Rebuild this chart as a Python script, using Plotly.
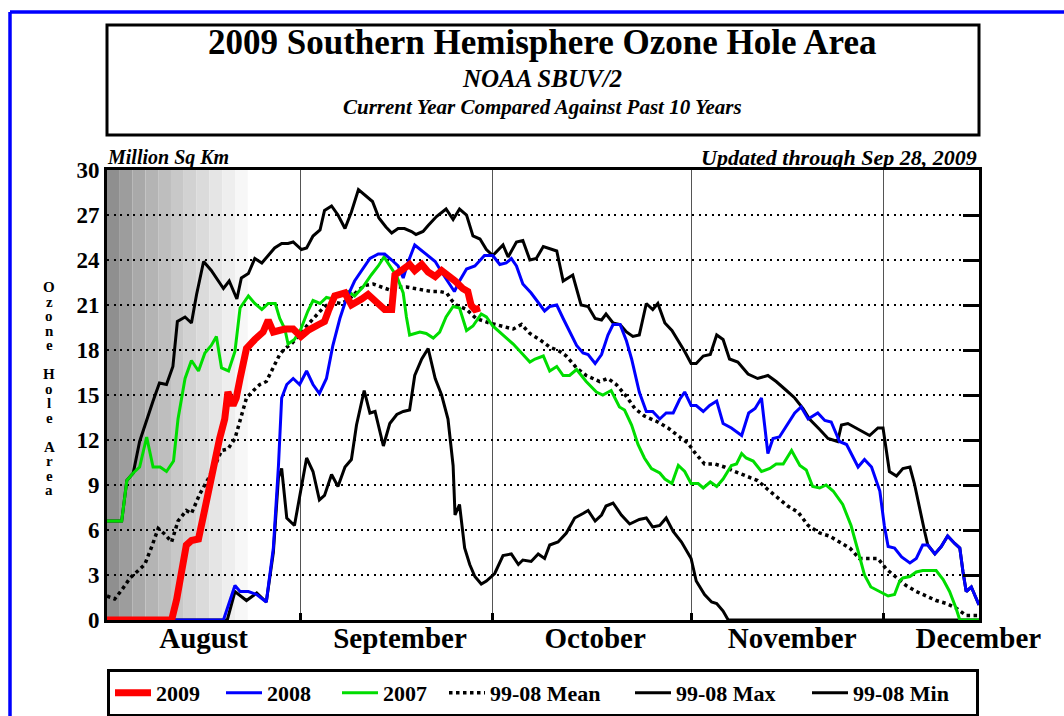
import plotly.graph_objects as go

# ---------------- data (x = day index, 0 = Aug 1 2009; y = million sq km) ----------------
s2009 = [(0.7, 0), (10.8, 0), (11.6, 1.4), (12.4, 3.4), (13.1, 5.0), (13.9, 5.3), (15.0, 5.4), (15.7, 6.8),
         (16.8, 9.0), (17.6, 11.0), (18.3, 12.1), (19.1, 13.4), (19.6, 15.2), (20.4, 14.3), (20.9, 14.8),
         (21.5, 16.1), (22.5, 18.1), (23.8, 18.7), (25.1, 19.2), (25.9, 20.0), (26.7, 19.2), (28.5, 19.4),
         (29.8, 19.4), (31.0, 18.9), (32.1, 19.3), (33.8, 19.7), (34.7, 19.9), (35.3, 20.6), (36.3, 21.6),
         (37.9, 21.8), (38.9, 21.0), (40.5, 21.4), (41.5, 21.7), (42.8, 21.2), (44.1, 20.7), (45.2, 20.7),
         (45.7, 23.0), (46.7, 23.3), (48.0, 23.7), (48.8, 23.3), (49.9, 23.7), (50.9, 23.2), (52.0, 22.9),
         (53.0, 23.3), (54.0, 23.0), (55.1, 22.6), (56.3, 22.1), (57.1, 21.9), (57.6, 21.0), (58.2, 20.7),
         (59.0, 20.8)]

s2008 = [(0.7, 0), (18.9, 0), (20.7, 2.3), (21.5, 1.9), (22.8, 1.9), (24.1, 1.7), (25.6, 1.2), (26.7, 4.8),
         (27.5, 10.3), (28.0, 14.8), (28.8, 15.7), (29.8, 16.1), (30.8, 15.7), (31.9, 16.6), (32.9, 15.7),
         (33.9, 15.1), (35.0, 16.1), (36.0, 18.3), (37.1, 20.1), (38.1, 21.4), (39.4, 22.6), (40.7, 23.4),
         (41.8, 24.1), (43.1, 24.4), (44.1, 24.4), (45.2, 24.0), (46.2, 23.6), (47.0, 22.8), (47.8, 23.9),
         (48.8, 25.0), (49.9, 24.6), (50.9, 24.3), (52.0, 23.9), (53.0, 23.2), (53.8, 22.7), (55.0, 21.9),
         (55.8, 22.6), (56.9, 23.4), (58.2, 23.6), (59.7, 24.3), (61.0, 24.3), (62.1, 23.7), (63.1, 23.8),
         (63.9, 24.1), (64.7, 23.6), (65.7, 22.4), (67.0, 21.8), (68.1, 21.2), (69.1, 20.6), (69.9, 20.9),
         (71.0, 21.0), (72.0, 20.1), (73.0, 19.2), (74.1, 18.3), (75.1, 17.8), (75.9, 17.7), (77.0, 17.1),
         (78.0, 17.7), (79.0, 19.0), (79.8, 19.7), (80.9, 19.7), (81.9, 18.6), (82.7, 17.4), (83.9, 15.2),
         (85.0, 13.9), (86.0, 13.9), (87.1, 13.4), (88.1, 13.8), (89.2, 13.8), (90.2, 14.7), (91.0, 15.2),
         (92.0, 14.3), (92.8, 14.3), (93.9, 13.9), (94.9, 14.3), (96.0, 14.6), (97.0, 13.1), (98.3, 12.8),
         (99.9, 12.3), (101.0, 13.8), (102.0, 14.1), (103.0, 14.8), (104.0, 11.1), (104.8, 12.1),
         (105.8, 12.2), (107.1, 13.1), (108.2, 13.8), (109.2, 14.2), (110.3, 13.4), (111.8, 13.8),
         (112.9, 13.3), (113.9, 13.2), (115.2, 11.9), (116.3, 11.7), (118.1, 10.2), (119.1, 10.7),
         (120.2, 10.2), (121.5, 8.6), (122.2, 6.3), (122.8, 4.9), (123.8, 4.8), (124.9, 4.2), (126.2, 3.8),
         (127.2, 4.1), (128.2, 5.0), (129.0, 5.0), (130.1, 4.4), (131.1, 4.9), (132.1, 5.6), (133.2, 5.1),
         (134.0, 4.8), (134.5, 3.2), (135.0, 1.9), (135.8, 2.2), (136.3, 1.7), (137.0, 1.0)]

s2007 = [(0.7, 6.6), (3.0, 6.6), (3.8, 9.3), (4.8, 9.8), (5.8, 10.2), (6.9, 12.2), (7.9, 10.2), (9.0, 10.2),
         (10.0, 9.9), (11.1, 10.6), (11.8, 13.4), (12.9, 16.1), (13.9, 17.3), (15.0, 16.6), (16.0, 17.8),
         (17.0, 18.3), (17.8, 18.9), (18.6, 16.8), (19.7, 16.6), (20.7, 17.9), (21.5, 20.8), (22.8, 21.6),
         (23.8, 21.1), (24.9, 20.7), (25.9, 21.1), (27.0, 21.1), (27.7, 20.1), (28.5, 19.4), (29.0, 18.4),
         (30.0, 18.7), (31.0, 19.4), (32.1, 20.6), (32.9, 21.3), (34.0, 21.1), (35.0, 21.5), (36.0, 21.4),
         (37.1, 21.7), (38.4, 21.9), (39.4, 21.6), (40.7, 22.2), (42.0, 23.0), (43.1, 23.6), (44.0, 24.2),
         (44.9, 23.6), (46.0, 22.9), (47.0, 21.8), (47.5, 20.2), (48.0, 19.0), (49.6, 19.2), (50.6, 19.1),
         (51.7, 18.8), (52.7, 19.2), (53.7, 20.2), (54.8, 20.9), (55.8, 20.8), (56.9, 19.3), (57.9, 19.6),
         (59.2, 20.4), (60.0, 20.2), (61.0, 19.6), (62.6, 19.0), (64.2, 18.4), (65.5, 17.8), (66.8, 17.2),
         (67.6, 17.4), (68.9, 17.6), (69.9, 16.6), (71.0, 16.9), (72.0, 16.3), (73.0, 16.3), (74.1, 16.7),
         (75.6, 15.9), (77.2, 15.2), (78.2, 15.0), (79.5, 15.3), (80.8, 14.2), (81.6, 14.0), (82.7, 13.0),
         (83.7, 11.7), (84.7, 10.8), (85.8, 10.1), (87.1, 9.8), (87.9, 9.4), (89.0, 9.1), (90.0, 10.3),
         (91.0, 9.9), (92.0, 9.1), (93.1, 9.1), (93.9, 8.8), (95.0, 9.2), (96.0, 8.9), (97.0, 9.4),
         (98.3, 10.3), (99.1, 10.4), (99.9, 11.1), (100.6, 10.8), (101.7, 10.6), (103.0, 9.9), (104.3, 10.1),
         (105.3, 10.4), (106.4, 10.4), (107.7, 11.3), (109.0, 10.3), (110.0, 10.0), (111.0, 8.9), (112.1, 8.8),
         (113.1, 9.0), (114.2, 8.6), (115.7, 7.7), (117.0, 6.3), (118.1, 4.6), (119.1, 3.0), (120.1, 2.2),
         (121.5, 1.9), (122.8, 1.6), (123.8, 1.7), (124.6, 2.6), (125.1, 2.8), (126.2, 2.9), (127.2, 3.2),
         (128.2, 3.3), (129.3, 3.3), (130.3, 3.3), (131.4, 2.7), (132.4, 1.9), (133.4, 0.8), (134.0, 0),
         (137.0, 0)]

s_mean = [(0.7, 1.6), (1.9, 1.4), (3.0, 2.0), (4.3, 2.8), (5.6, 3.3), (6.6, 3.7), (7.7, 4.9), (8.7, 6.1),
          (9.8, 5.7), (10.8, 5.2), (11.8, 6.6), (13.1, 7.3), (13.9, 7.1), (15.2, 8.4), (16.5, 9.4),
          (17.6, 10.3), (18.6, 11.3), (19.6, 11.4), (20.7, 12.1), (21.7, 13.7), (22.5, 14.8), (23.6, 15.3),
          (24.6, 15.7), (25.6, 15.9), (26.7, 16.8), (27.7, 17.7), (28.5, 18.1), (29.5, 18.4), (30.8, 19.0),
          (32.1, 19.7), (33.4, 20.3), (34.7, 20.9), (36.0, 21.2), (37.3, 21.1), (38.6, 21.4), (40.0, 22.0),
          (41.0, 22.3), (42.3, 22.4), (43.6, 22.2), (44.9, 22.0), (46.2, 22.2), (47.5, 22.2), (48.8, 22.1),
          (50.1, 22.0), (51.4, 21.9), (52.7, 21.9), (53.8, 21.8), (54.6, 21.3), (55.3, 21.0), (56.9, 20.7),
          (58.4, 20.1), (60.5, 19.8), (62.6, 19.6), (64.2, 19.4), (65.5, 19.7), (66.8, 19.1), (68.3, 18.7),
          (69.9, 18.2), (71.5, 17.9), (72.5, 17.6), (74.1, 16.8), (75.6, 16.3), (77.7, 15.9), (79.0, 16.1),
          (80.3, 15.7), (81.9, 14.9), (83.2, 14.1), (84.7, 13.6), (86.8, 13.2), (88.4, 12.8), (89.9, 12.3),
          (91.5, 11.8), (92.5, 11.2), (94.1, 10.4), (95.7, 10.4), (97.2, 10.2), (98.8, 9.9), (100.6, 9.6),
          (102.4, 9.3), (104.0, 8.7), (105.6, 8.1), (107.1, 7.6), (108.7, 7.2), (110.3, 6.3), (112.1, 5.8),
          (113.6, 5.6), (115.2, 5.2), (116.8, 4.8), (118.3, 4.1), (119.9, 4.1), (121.2, 4.1), (122.5, 3.4),
          (124.1, 2.8), (125.6, 2.3), (127.2, 1.9), (128.8, 1.6), (130.3, 1.3), (131.9, 1.1), (133.4, 0.8),
          (135.0, 0.3), (137.0, 0.3)]

s_max = [(0.7, 6.6), (3.0, 6.6), (3.8, 9.3), (4.8, 9.8), (5.8, 11.9), (6.9, 13.4), (7.9, 14.6), (8.9, 15.8),
         (10.0, 15.7), (11.0, 16.9), (11.7, 19.9), (12.9, 20.2), (13.9, 19.8), (14.7, 21.7), (15.8, 23.9),
         (17.0, 23.3), (18.1, 22.6), (18.9, 22.1), (19.8, 22.6), (21.0, 21.4), (21.7, 22.8), (22.8, 23.1),
         (23.8, 24.1), (24.9, 23.8), (25.9, 24.3), (26.9, 24.8), (28.0, 25.1), (29.0, 25.1), (29.8, 25.2),
         (31.1, 24.7), (31.9, 24.8), (32.9, 25.6), (34.0, 26.0), (34.7, 27.3), (35.8, 27.6), (36.8, 27.0),
         (37.9, 26.1), (38.9, 27.2), (40.0, 28.7), (41.1, 28.3), (42.2, 27.9), (43.2, 26.8), (44.3, 26.2),
         (45.2, 25.8), (46.2, 26.1), (47.2, 26.1), (48.3, 25.9), (49.0, 25.7), (50.1, 25.9), (50.9, 26.3),
         (52.2, 26.9), (53.7, 27.4), (54.8, 26.7), (55.8, 27.4), (56.9, 27.0), (57.9, 25.6), (59.0, 25.4),
         (60.0, 24.7), (61.0, 24.3), (62.6, 25.0), (63.4, 24.2), (64.7, 25.2), (65.7, 25.3), (66.8, 24.0),
         (67.8, 24.1), (68.9, 24.9), (71.0, 24.6), (72.0, 22.6), (73.5, 23.0), (74.8, 21.0), (75.9, 20.9),
         (77.0, 20.1), (78.0, 20.0), (78.7, 20.4), (79.8, 19.8), (80.9, 19.7), (81.9, 19.2), (82.9, 18.9),
         (83.9, 19.0), (85.0, 21.1), (86.0, 20.7), (86.8, 21.1), (87.9, 19.8), (89.0, 19.3), (90.0, 18.6),
         (91.0, 17.9), (92.0, 17.1), (92.8, 17.1), (93.9, 17.6), (95.0, 17.7), (96.0, 19.0), (97.0, 18.7),
         (98.0, 17.4), (99.3, 17.2), (100.9, 16.4), (102.4, 16.1), (104.0, 16.3), (105.3, 15.9), (106.9, 15.3),
         (108.2, 14.8), (109.5, 14.1), (110.5, 13.4), (112.1, 12.7), (113.4, 12.1), (114.9, 11.9),
         (115.5, 13.0), (116.5, 13.1), (118.1, 12.7), (119.9, 12.3), (121.2, 12.8), (122.0, 12.8),
         (123.0, 9.9), (124.1, 9.6), (125.1, 10.1), (126.2, 10.2), (126.9, 9.1), (127.7, 7.4), (128.5, 5.9),
         (129.0, 5.0), (130.1, 4.4), (131.1, 4.9), (132.1, 5.6), (133.2, 5.1), (134.0, 4.8), (134.5, 3.2),
         (135.0, 1.9), (135.8, 2.2), (136.3, 1.7), (137.0, 1.0)]

s_min = [(0.7, 0), (19.5, 0), (20.7, 1.9), (22.5, 1.3), (24.1, 1.8), (25.6, 1.2), (26.7, 4.5), (27.5, 9.5),
         (28.0, 10.1), (28.8, 6.8), (30.0, 6.3), (30.8, 8.3), (31.9, 10.8), (32.9, 9.9), (33.9, 8.0),
         (34.7, 8.3), (35.8, 9.7), (36.8, 8.9), (37.9, 10.2), (38.9, 10.7), (39.7, 13.0), (40.9, 15.3),
         (41.8, 13.8), (42.6, 13.9), (43.9, 11.6), (44.9, 13.1), (46.0, 13.7), (47.0, 13.9), (48.0, 14.0),
         (48.8, 16.3), (49.9, 17.4), (50.9, 18.1), (52.0, 16.1), (53.0, 15.0), (54.0, 13.4), (54.8, 10.3),
         (55.1, 7.0), (55.8, 7.7), (56.6, 4.8), (57.4, 3.7), (58.2, 2.9), (59.2, 2.4), (60.0, 2.6),
         (61.3, 3.1), (62.6, 4.3), (63.9, 4.4), (65.0, 3.7), (65.7, 4.0), (67.0, 3.9), (68.1, 4.4),
         (69.1, 4.1), (69.9, 5.0), (71.2, 5.2), (72.5, 5.8), (73.8, 6.8), (75.1, 7.1), (75.9, 7.3),
         (77.0, 6.6), (78.0, 7.0), (78.7, 7.6), (79.8, 7.8), (81.1, 7.0), (82.4, 6.4), (83.9, 6.7),
         (85.0, 6.8), (86.0, 6.2), (87.1, 6.3), (88.1, 6.8), (89.2, 5.9), (90.5, 5.2), (92.0, 4.1),
         (92.8, 2.6), (94.1, 1.7), (95.2, 1.2), (96.0, 1.1), (97.0, 0.6), (97.8, 0), (137.0, 0)]

month_starts = [31, 61, 92, 122]
month_mids = [15.8, 46.5, 77.0, 107.8, 136.9]
month_labels = ["August", "September", "October", "November", "December"]
y_ticks = [0, 3, 6, 9, 12, 15, 18, 21, 24, 27, 30]
right_ticks = [3, 6, 9, 12, 15, 18, 21, 24, 27]
x_range = [0.7, 137.0]
shade_start, shade_days, shade_steps = 0.7, 2.0, 11

# ---------------- figure ----------------
W, H = 1064, 716
SERIF = "Liberation Serif, Times New Roman, serif"


def px(x):
    return x / W


def py(y):
    return 1 - y / H


series = [
    ("99-08 Min", s_min, dict(color="black", width=3), 118),
    ("99-08 Max", s_max, dict(color="black", width=3), 126),
    ("99-08 Mean", s_mean, dict(color="black", width=3.5, dash="dot"), 135),
    ("2007", s2007, dict(color="#00dd00", width=3), 56),
    ("2008", s2008, dict(color="#0000ff", width=3), 65),
    ("2009", s2009, dict(color="#ff0000", width=7), 60),
]

fig = go.Figure()
for name, pts, line, lw in series:
    xs = [p[0] for p in pts]
    ys = [p[1] for p in pts]
    fig.add_trace(go.Scatter(x=xs, y=ys, mode="lines", name=name, line=line,
                             legendwidth=lw, hoverinfo="skip"))

# dummy trace for right-side tick axis
fig.add_trace(go.Scatter(x=[None], y=[None], yaxis="y2", showlegend=False, hoverinfo="skip"))

shapes = []
# gray gradient on early August
for i in range(shade_steps):
    g = int(0x8f + (0xf7 - 0x8f) * (i / (shade_steps - 1)) ** 0.85)
    shapes.append(dict(type="rect", xref="x", yref="y", x0=shade_start + i * shade_days,
                       x1=shade_start + (i + 1) * shade_days, y0=0, y1=30, layer="below",
                       line=dict(width=0), fillcolor=f"rgb({g},{g},{g})"))
# blue page frame
shapes.append(dict(type="line", xref="paper", yref="paper", x0=px(10), x1=px(10), y0=py(12), y1=0,
                   line=dict(color="#0000ff", width=3.5)))
shapes.append(dict(type="line", xref="paper", yref="paper", x0=px(10), x1=1.0, y0=py(12), y1=py(12),
                   line=dict(color="#0000ff", width=3.5)))
# title box
shapes.append(dict(type="rect", xref="paper", yref="paper", x0=px(107), x1=px(979), y0=py(135), y1=py(25),
                   line=dict(color="black", width=3)))

annotations = [
    dict(text="<b>2009 Southern Hemisphere Ozone Hole Area</b>", x=px(542), y=py(43), showarrow=False,
         xref="paper", yref="paper", xanchor="center", yanchor="middle",
         font=dict(family=SERIF, size=35, color="black")),
    dict(text="<b><i>NOAA SBUV/2</i></b>", x=px(542), y=py(79), showarrow=False,
         xref="paper", yref="paper", xanchor="center", yanchor="middle",
         font=dict(family=SERIF, size=25, color="black")),
    dict(text="<b><i>Current Year Compared Against Past 10 Years</i></b>", x=px(542), y=py(107),
         showarrow=False, xref="paper", yref="paper", xanchor="center", yanchor="middle",
         font=dict(family=SERIF, size=21, color="black")),
    dict(text="<b><i>Million Sq Km</i></b>", x=px(105), y=py(158), showarrow=False,
         xref="paper", yref="paper", xanchor="left", yanchor="middle",
         font=dict(family=SERIF, size=20, color="black")),
    dict(text="<b><i>Updated through Sep 28, 2009</i></b>", x=px(979), y=py(158), showarrow=False,
         xref="paper", yref="paper", xanchor="right", yanchor="middle",
         font=dict(family=SERIF, size=22, color="black")),
]
for i, ch in enumerate("Ozone Hole Area"):
    if ch == " ":
        continue
    annotations.append(dict(text=f"<b>{ch}</b>", x=px(49), y=py(287 + i * 14.5), showarrow=False,
                            xref="paper", yref="paper", xanchor="center", yanchor="middle",
                            font=dict(family=SERIF, size=15, color="black")))

fig.update_layout(
    template="none",
    width=W, height=H, autosize=False,
    margin=dict(l=0, r=0, t=0, b=0, pad=0, autoexpand=False),
    paper_bgcolor="white", plot_bgcolor="white",
    shapes=shapes, annotations=annotations,
    xaxis=dict(domain=[px(107), px(979)], range=x_range, tickvals=month_mids, ticktext=month_labels,
               ticks="", showgrid=False, zeroline=False, showline=True, linewidth=3, linecolor="black",
               mirror=True, automargin=False, ticklabelstandoff=-10,
               tickfont=dict(family=SERIF, size=29, color="black", weight="bold"),
               minor=dict(tickvals=month_starts, ticks="inside", ticklen=7, tickwidth=3, tickcolor="black",
                          showgrid=True, gridcolor="#555555", gridwidth=1)),
    yaxis=dict(domain=[py(620), py(170)], range=[0, 30], tickvals=y_ticks, ticks="",
               showgrid=True, gridcolor="black", gridwidth=2, griddash="2px,4.5px", zeroline=False,
               showline=True, linewidth=3, linecolor="black", mirror=True, automargin=False,
               tickfont=dict(family=SERIF, size=23, color="black", weight="bold")),
    yaxis2=dict(overlaying="y", side="right", anchor="x", range=[0, 30], tickvals=right_ticks,
                ticks="inside", ticklen=16, tickwidth=3, tickcolor="black", showticklabels=False,
                showgrid=False, zeroline=False, showline=False, automargin=False),
    legend=dict(orientation="h", x=px(107), y=py(669), xanchor="left", yanchor="top",
                bordercolor="black", borderwidth=3, bgcolor="white", itemwidth=36,
                traceorder="reversed", font=dict(family=SERIF, size=22, color="black", weight="bold")),
    showlegend=True,
)

fig.write_html("out.html", config={"responsive": False, "displayModeBar": False},
               post_script="document.body.style.margin='0';document.body.style.overflow='hidden';")
